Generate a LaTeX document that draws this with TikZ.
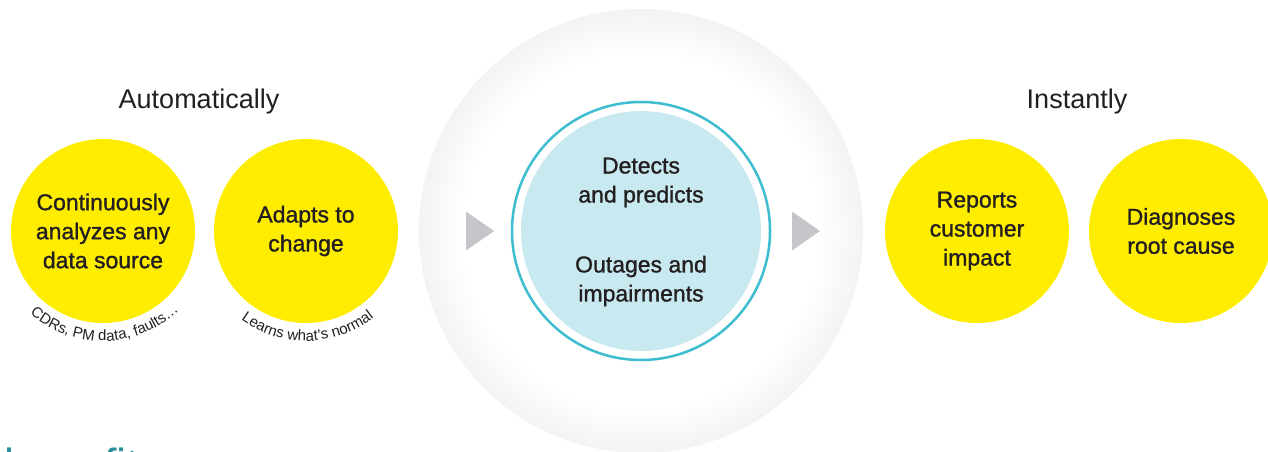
\documentclass[tikz,border=0pt]{standalone}
\usepackage{fontspec}
\setmainfont{Liberation Sans}
\newfontfamily\medfont[FakeBold=1.2]{Liberation Sans}
\usepackage{tikz}
\usetikzlibrary{decorations.text}
\definecolor{ink}{HTML}{231F20}
\definecolor{sun}{HTML}{FFED00}
\definecolor{pale}{HTML}{C9E9F0}
\definecolor{ringblue}{HTML}{3DBDCF}
\definecolor{pointer}{HTML}{C5C6C9}
\definecolor{halo}{HTML}{EBECED}
\definecolor{caption}{HTML}{2B8E9C}
\pgfdeclareradialshading{glow}{\pgfpoint{0bp}{0bp}}{color(0bp)=(white); color(20bp)=(white); color(28bp)=(halo); color(50bp)=(halo)}

\begin{document}
\begin{tikzpicture}[x=1pt, y=1pt, bubble/.style = {shape=circle, fill=sun, align=center, text=ink, inner sep=0pt, minimum size=184pt, font=\medfont\fontsize{23}{29}\selectfont}, heading/.style = {text=ink, font=\fontsize{27}{32}\selectfont}, core/.style = {align=center, text=ink, font=\medfont\fontsize{23}{29}\selectfont}, curved/.style = {decorate, decoration={text along path, text align=center, text={|\fontsize{15}{15}\selectfont\color{ink}|#1}}}]
	\useasboundingbox (0,0) rectangle (1268,451);
	\node[shape=circle, shade, shading=glow, minimum size=444pt, inner sep=0pt] (halo) at (641,220) {};
	\node[shape=circle, draw=ringblue, fill=white, line width=2.5pt, minimum size=258pt, inner sep=0pt] (ring) at (halo.center) {};
	\node[shape=circle, fill=pale, minimum size=240pt, inner sep=0pt] (core) at (halo.center) {};
	\node[core] (detect) at (641,268.5) {Detects\\and predicts};
	\node[core] (outage) at (641,170) {Outages and\\impairments};
	\node[heading] (auto) at (199,349) {Automatically};
	\node[heading] (instant) at (1077,349) {Instantly};
	\node[bubble] (scan) at (103,220) {Continuously\\analyzes any\\data source};
	\node[bubble] (adapt) at (306,220) {Adapts to\\change};
	\node[bubble] (impact) at (977,220) {Reports\\customer\\impact};
	\node[bubble] (cause) at (1181,220) {Diagnoses\\root cause};
	\path[curved={CDRs, PM data, faults…}] (scan.center) ++(224:110) arc[start angle=224, end angle=318, radius=110];
	\path[curved={Learns what’s normal}] (adapt.center) ++(224:110) arc[start angle=224, end angle=318, radius=110];
	\fill[pointer] (466,239.5) -- (494,220) -- (466,200.5) -- cycle;
	\fill[pointer] (792,239.5) -- (820,220) -- (792,200.5) -- cycle;
	\node[anchor=base west, text=caption, font=\fontsize{45}{45}\selectfont, inner sep=0pt] (benefit) at (4,-29) {benefits};
\end{tikzpicture}
\end{document}
